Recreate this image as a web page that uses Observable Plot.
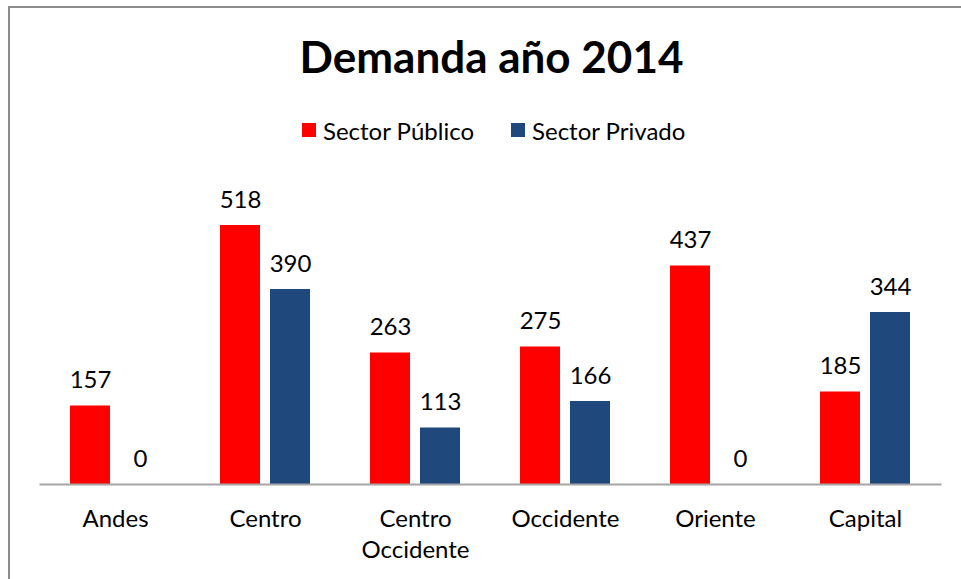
<!DOCTYPE html>
<html>
<head>
<meta charset="utf-8">
<script src="https://cdn.jsdelivr.net/npm/d3@7"></script>
<script src="https://cdn.jsdelivr.net/npm/@observablehq/plot@0.6"></script>
<style>
  html, body { margin: 0; padding: 0; background: #fff; }
  #wrap { position: relative; width: 961px; height: 579px; overflow: hidden; font-family: Lato, "Open Sans", sans-serif; }
  #frame { position: absolute; left: 8px; top: 6px; width: 1000px; height: 700px; border-left: 2px solid #8c8c8c; border-top: 2px solid #8c8c8c; }
  #title { position: absolute; left: 0; width: 983px; top: 31px; text-align: center; font-weight: 700; font-size: 44px; line-height: 50px; color: #000; }
  #legend { position: absolute; left: 302px; top: 116px; display: flex; align-items: center; font-size: 24px; color: #000; height: 28px; }
  #legend .item { display: flex; align-items: center; margin-right: 37px; }
  #legend .sw { width: 14px; height: 14px; margin-right: 7px; }
  #chart { position: absolute; left: 0; top: 150px; }
</style>
</head>
<body>
<div id="wrap">
  <div id="frame"></div>
  <div id="title">Demanda año 2014</div>
  <div id="legend"></div>
  <div id="chart"></div>
</div>
<script>
const regions = ["Andes", "Centro", "Centro Occidente", "Occidente", "Oriente", "Capital"];
const series = ["Sector Público", "Sector Privado"];
const publico = [157, 518, 263, 275, 437, 185];
const privado = [0, 390, 113, 166, 0, 344];
const colors = ["#ff0000", "#1f497d"];

const data = [];
regions.forEach((r, i) => {
  data.push({region: r, serie: series[0], value: publico[i]});
  data.push({region: r, serie: series[1], value: privado[i]});
});

const legend = document.getElementById("legend");
series.forEach((s, i) => {
  const item = document.createElement("div");
  item.className = "item";
  const sw = document.createElement("div");
  sw.className = "sw";
  sw.style.background = colors[i];
  const t = document.createElement("span");
  t.textContent = s;
  item.appendChild(sw);
  item.appendChild(t);
  legend.appendChild(item);
});

const plot = Plot.plot({
  width: 961,
  height: 429,
  marginTop: 34,
  marginBottom: 95,
  marginLeft: 22,
  marginRight: 20,
  style: {fontFamily: "Lato, 'Open Sans', sans-serif", fontSize: "24px", color: "#000", background: "transparent"},
  fx: {domain: regions, paddingInner: 0, paddingOuter: 0.0633, align: 0.947, label: null},
  x: {domain: series, paddingInner: 0.2, paddingOuter: 0.6, axis: null},
  y: {domain: [0, 600], axis: null},
  color: {domain: series, range: colors},
  marks: [
    Plot.barY(data, {fx: "region", x: "serie", y: "value", fill: "serie"}),
    Plot.text(data, {fx: "region", x: "serie", y: "value", text: d => String(d.value), dy: -18, lineAnchor: "bottom", fontSize: 24, fill: "#000"}),
    Plot.frame({anchor: "bottom", facet: "super", stroke: "#a6a6a6", strokeWidth: 2}),
    Plot.axisFx({anchor: "bottom", tickSize: 0, tickPadding: 20, fontSize: 24, lineHeight: 1.3, tickFormat: d => d.replace(" ", "\n"), label: null})
  ]
});
document.getElementById("chart").appendChild(plot);
</script>
</body>
</html>
